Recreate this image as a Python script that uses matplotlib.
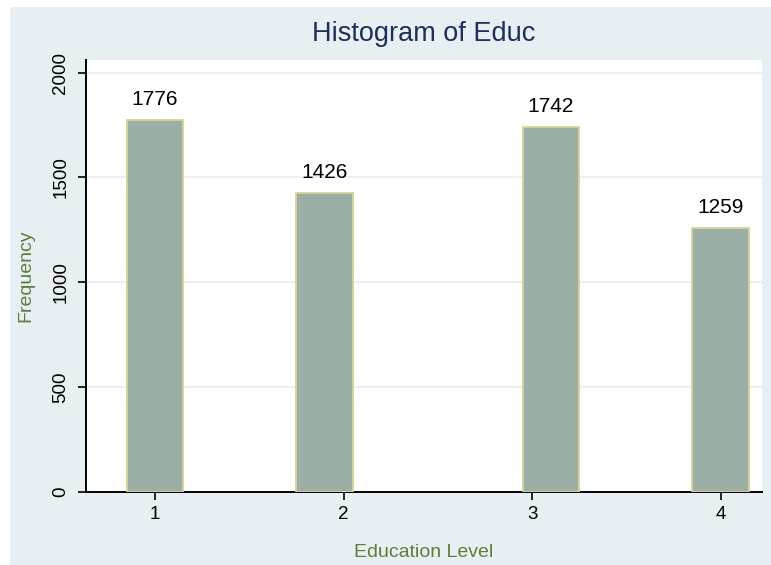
import matplotlib
matplotlib.use("Agg")
import matplotlib.pyplot as plt
import numpy as np
from matplotlib.patches import Rectangle

# education levels and their counts
levels = [1, 2, 3, 4]
counts = [1776, 1426, 1742, 1259]
tick_labels = ["1", "2", "3", "4"]
y_ticks = [0, 500, 1000, 1500, 2000]

plt.rcParams['font.family'] = ['Liberation Sans', 'DejaVu Sans']

# histogram bins (11 bins of width 0.3 from 0.85 to 4.15, like the Stata default)
edges = np.linspace(0.85, 4.15, 12)
idx = np.digitize(levels, edges) - 1
centers = (edges[idx] + edges[idx + 1]) / 2
width = edges[1] - edges[0]

fig = plt.figure(figsize=(7.71, 5.65), dpi=100)
fig.patch.set_facecolor('white')
# shaded graph region
fig.patches.append(Rectangle((10 / 771, 0), 1 - 10 / 771, 1 - 7 / 565,
                             transform=fig.transFigure, facecolor='#e8eff2',
                             edgecolor='none', zorder=-5))

ax = fig.add_axes([86 / 771, 73 / 565, 676 / 771, 432 / 565])
ax.set_facecolor('white')

ax.bar(centers, counts, width=width, color='#9bafa7', edgecolor='#d6d39b',
       linewidth=1.3, zorder=3)

for x, c in zip(centers, counts):
    ax.annotate(str(c), (x, c), xytext=(0, 14.5), textcoords='offset points',
                ha='center', va='center', fontsize=15, color='black')

ax.set_xlim(0.634, 4.219)
ax.set_ylim(0, 2060)
ax.set_xticks(levels)
ax.set_xticklabels(tick_labels, fontsize=13.5)
ax.set_yticks(y_ticks)
ax.set_yticklabels([str(v) for v in y_ticks], fontsize=13.5, rotation=90,
                   va='center')

for v in y_ticks[1:]:
    ax.axhline(v, color='#eaf0f3', linewidth=1.5, zorder=1)

for s in ['top', 'right']:
    ax.spines[s].set_visible(False)
for s in ['left', 'bottom']:
    ax.spines[s].set_linewidth(1.4)
    ax.spines[s].set_color('black')
ax.tick_params(direction='out', length=6, width=1.2, colors='black')
ax.tick_params(axis='x', pad=4)
ax.tick_params(axis='y', pad=6)

ax.set_xlabel('Education Level', fontsize=14, color='#5b7f3c', labelpad=15)
ax.set_ylabel('Frequency', fontsize=14, color='#5b7f3c', labelpad=13)
ax.set_title('Histogram of Educ', fontsize=19.5, color='#1e2f5a', pad=14)

fig.savefig('out.png', dpi=100)
